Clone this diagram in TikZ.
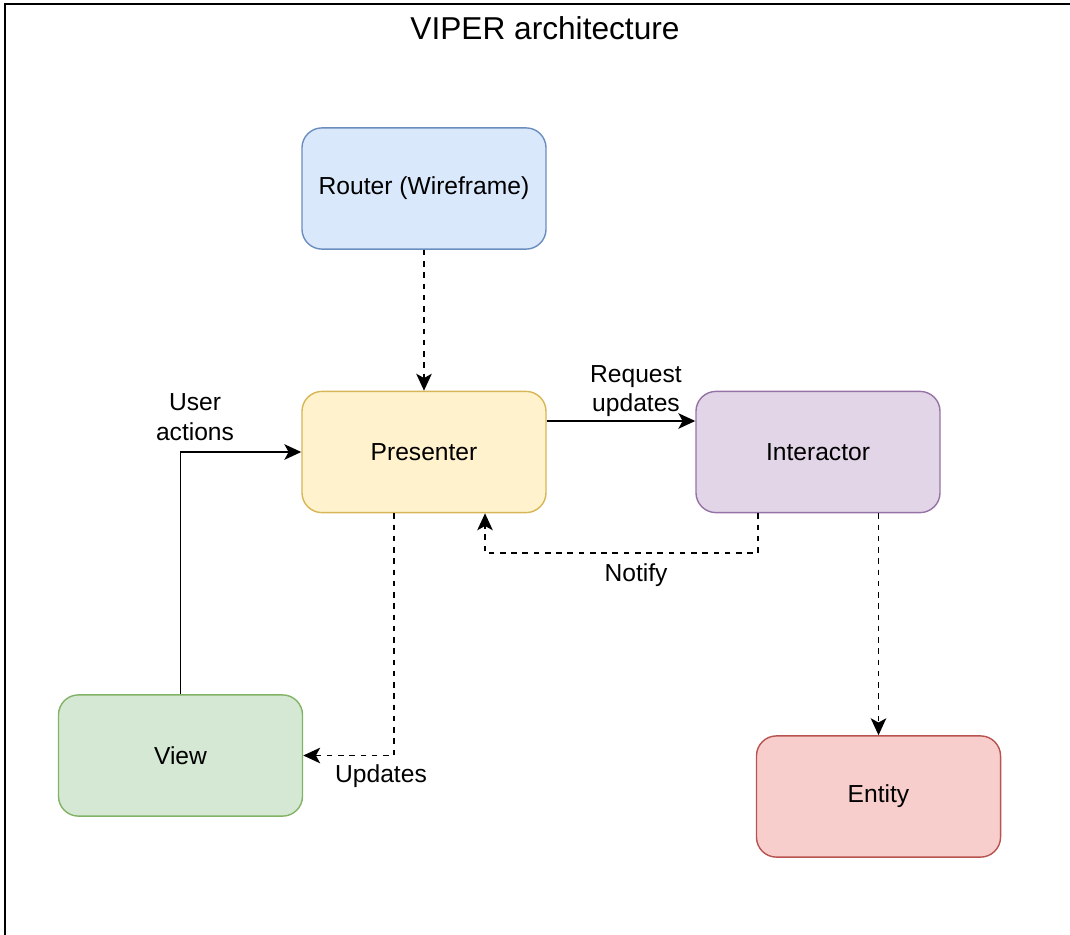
\documentclass[tikz,border=0pt]{standalone}
\usepackage{fontspec}
\setmainfont{Liberation Sans}
\usetikzlibrary{positioning, arrows.meta, calc}

\begin{document}
\begin{tikzpicture}[
    x=0.025cm, y=-0.025cm,
    box/.style={rectangle, rounded corners=0.5cm, minimum width=6.1cm, minimum height=3.03cm, align=center, draw, line width=1pt, font=\fontsize{17.5}{21}\selectfont},
    router/.style={box, fill={rgb,255:red,218;green,232;blue,252}, draw={rgb,255:red,108;green,142;blue,191}},
    pres/.style={box, fill={rgb,255:red,255;green,242;blue,204}, draw={rgb,255:red,214;green,182;blue,86}},
    inter/.style={box, fill={rgb,255:red,225;green,213;blue,231}, draw={rgb,255:red,150;green,115;blue,166}},
    viewbox/.style={box, fill={rgb,255:red,213;green,232;blue,212}, draw={rgb,255:red,130;green,179;blue,102}},
    ent/.style={box, fill={rgb,255:red,248;green,206;blue,204}, draw={rgb,255:red,184;green,84;blue,80}},
    lbl/.style={align=center, inner sep=1pt, font=\fontsize{17.5}{21}\selectfont},
    arr/.style={-{Stealth[length=12pt, width=11pt, inset=3pt]}, line width=1.4pt},
    dasharr/.style={arr, dash pattern=on 4pt off 4pt}
]
\useasboundingbox (0,0) rectangle (1070,934);
\draw[line width=1.4pt] (5,940) -- (5,4) -- (1075,4);

\node[font=\fontsize{22.5}{26}\selectfont] (title) at (545,28) {VIPER architecture};

\node[router] (router) at (424,188.5) {Router (Wireframe)};
\node[pres] (presenter) at (424,452) {Presenter};
\node[inter] (interactor) at (818,452) {Interactor};
\node[viewbox] (view) at (180.5,755.5) {View};
\node[ent] (entity) at (878.5,796.5) {Entity};

\draw[dasharr] (router) -- (presenter);
\draw[arr] ([yshift=0.775cm]presenter.east) -- ([yshift=0.775cm]interactor.west);
\node[lbl] (reqlbl) at (636,391) {Request\\updates};

\draw[dasharr] ([xshift=-1.5cm]interactor.south) -- ++(0,40) -| ([xshift=1.525cm]presenter.south);
\node[lbl] (notifylbl) at (636,575) {Notify};

\draw[dasharr] ([xshift=-0.75cm]presenter.south) |- (view.east);
\node[lbl] (updlbl) at (381,776) {Updates};

\draw[arr] (view.north) |- (presenter.west);
\node[lbl] (userlbl) at (195,417) {User\\actions};

\draw[dasharr] (interactor.south -| entity.north) -- (entity.north);

\end{tikzpicture}
\end{document}
